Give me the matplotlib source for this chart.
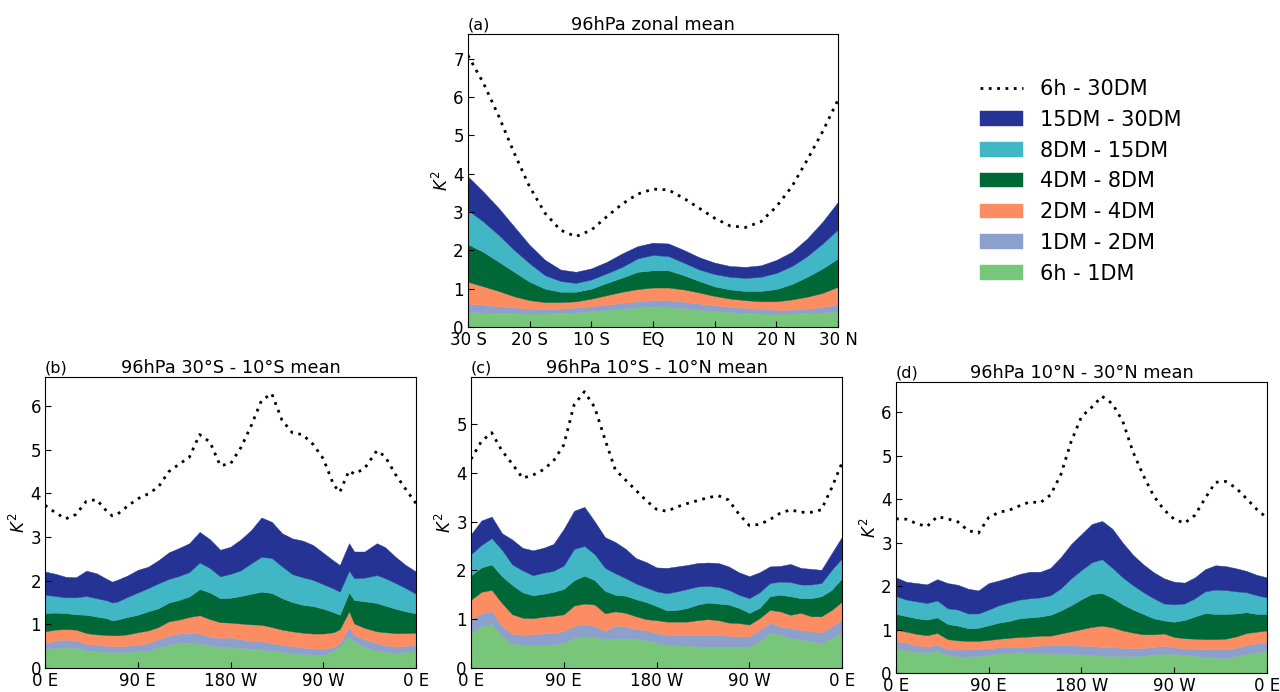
import numpy as np
import matplotlib
matplotlib.use('Agg')
import matplotlib.pyplot as plt

# colours of the period bands (bottom -> top)
col_6h_1 = '#78c679'
col_1_2 = '#8da0cb'
col_2_4 = '#fc8d62'
col_4_8 = '#006837'
col_8_15 = '#41b6c4'
col_15_30 = '#253494'

band_labels = ['15DM - 30DM', '8DM - 15DM', '4DM - 8DM', '2DM - 4DM', '1DM - 2DM', '6h - 1DM']
total_label = '6h - 30DM'

# (a) zonal mean, values are cumulative tops of each band (K^2)
a_lat = [-30, -27.5, -25, -22.5, -20, -17.5, -15, -12.5, -10, -7.5, -5, -2.5, 0,
         2.5, 5, 7.5, 10, 12.5, 15, 17.5, 20, 22.5, 25, 27.5, 30]
a_total = [7.09, 6.37, 5.50, 4.54, 3.66, 2.97, 2.53, 2.36, 2.53, 2.88, 3.21, 3.47, 3.60,
           3.58, 3.36, 3.10, 2.84, 2.64, 2.60, 2.75, 3.14, 3.66, 4.36, 5.10, 5.93]
a_top_15_30 = [3.93, 3.53, 3.10, 2.62, 2.14, 1.75, 1.50, 1.44, 1.53, 1.70, 1.92, 2.11, 2.20,
               2.18, 2.01, 1.82, 1.68, 1.59, 1.57, 1.61, 1.75, 1.96, 2.31, 2.75, 3.27]
a_top_8_15 = [3.05, 2.75, 2.40, 2.01, 1.66, 1.35, 1.20, 1.15, 1.24, 1.40, 1.57, 1.79, 1.88,
              1.85, 1.68, 1.50, 1.38, 1.31, 1.28, 1.31, 1.41, 1.59, 1.85, 2.18, 2.55]
a_top_4_8 = [2.16, 1.96, 1.70, 1.44, 1.18, 1.00, 0.92, 0.92, 1.00, 1.15, 1.29, 1.44, 1.48,
             1.48, 1.35, 1.20, 1.06, 0.98, 0.94, 0.94, 0.99, 1.12, 1.31, 1.53, 1.79]
a_top_2_4 = [1.18, 1.06, 0.94, 0.80, 0.70, 0.65, 0.65, 0.67, 0.74, 0.83, 0.92, 0.99, 1.03,
             1.03, 0.98, 0.90, 0.81, 0.74, 0.70, 0.67, 0.67, 0.72, 0.79, 0.89, 1.05]
a_top_1_2 = [0.61, 0.58, 0.54, 0.51, 0.48, 0.47, 0.48, 0.51, 0.54, 0.58, 0.63, 0.67, 0.70,
             0.70, 0.66, 0.61, 0.57, 0.52, 0.50, 0.47, 0.45, 0.45, 0.48, 0.52, 0.59]
a_top_6h_1 = [0.39, 0.38, 0.37, 0.36, 0.35, 0.35, 0.37, 0.38, 0.41, 0.45, 0.48, 0.51, 0.52,
              0.51, 0.49, 0.45, 0.42, 0.39, 0.37, 0.35, 0.35, 0.35, 0.37, 0.38, 0.41]

# (b) 30S - 10S mean
b_lon = [0, 10, 20, 30, 40, 50, 60, 65, 70, 80, 90, 100, 110, 120, 130, 140, 150, 160, 170,
         180, 190, 200, 210, 220, 230, 240, 250, 260, 270, 280, 286, 295, 300, 310, 322, 330,
         340, 350, 360]
b_total = [3.73, 3.56, 3.42, 3.52, 3.82, 3.86, 3.59, 3.49, 3.52, 3.71, 3.88, 3.99, 4.15, 4.50,
           4.67, 4.83, 5.35, 5.18, 4.64, 4.68, 5.05, 5.55, 6.13, 6.29, 5.68, 5.39, 5.35, 5.13,
           4.80, 4.20, 4.03, 4.52, 4.45, 4.57, 4.98, 4.85, 4.44, 4.10, 3.77]
b_top_15_30 = [2.21, 2.16, 2.09, 2.08, 2.23, 2.17, 2.04, 1.98, 2.02, 2.12, 2.25, 2.32, 2.47,
               2.65, 2.75, 2.86, 3.12, 2.95, 2.71, 2.78, 2.95, 3.16, 3.45, 3.35, 3.09, 2.97,
               2.92, 2.82, 2.64, 2.46, 2.36, 2.86, 2.67, 2.67, 2.86, 2.77, 2.55, 2.36, 2.21]
b_top_8_15 = [1.68, 1.65, 1.62, 1.62, 1.65, 1.60, 1.55, 1.50, 1.52, 1.63, 1.73, 1.83, 1.94,
              2.04, 2.11, 2.20, 2.42, 2.29, 2.10, 2.16, 2.24, 2.40, 2.55, 2.52, 2.33, 2.15,
              2.08, 2.02, 1.92, 1.82, 1.75, 2.23, 2.06, 2.07, 2.13, 2.06, 1.95, 1.83, 1.70]
b_top_4_8 = [1.26, 1.27, 1.26, 1.23, 1.22, 1.18, 1.14, 1.09, 1.11, 1.17, 1.22, 1.30, 1.37,
             1.50, 1.56, 1.64, 1.81, 1.73, 1.60, 1.61, 1.65, 1.70, 1.75, 1.72, 1.60, 1.51,
             1.45, 1.42, 1.36, 1.28, 1.22, 1.73, 1.56, 1.53, 1.49, 1.43, 1.36, 1.30, 1.25]
b_top_2_4 = [0.84, 0.88, 0.89, 0.88, 0.80, 0.77, 0.76, 0.75, 0.75, 0.77, 0.82, 0.86, 0.94,
             1.07, 1.11, 1.17, 1.21, 1.12, 1.05, 1.04, 1.02, 1.00, 0.99, 0.94, 0.88, 0.84,
             0.81, 0.79, 0.79, 0.82, 0.89, 1.30, 1.02, 0.92, 0.84, 0.82, 0.80, 0.80, 0.81]
b_top_1_2 = [0.57, 0.63, 0.65, 0.63, 0.55, 0.53, 0.51, 0.50, 0.50, 0.51, 0.53, 0.57, 0.66,
             0.74, 0.79, 0.80, 0.79, 0.72, 0.69, 0.70, 0.66, 0.63, 0.61, 0.57, 0.53, 0.50,
             0.47, 0.45, 0.44, 0.48, 0.57, 0.95, 0.75, 0.66, 0.57, 0.52, 0.49, 0.51, 0.53]
b_top_6h_1 = [0.42, 0.46, 0.47, 0.46, 0.40, 0.38, 0.37, 0.36, 0.36, 0.37, 0.38, 0.40, 0.47,
              0.53, 0.57, 0.57, 0.56, 0.51, 0.50, 0.48, 0.46, 0.44, 0.42, 0.40, 0.37, 0.34,
              0.32, 0.31, 0.30, 0.40, 0.50, 0.72, 0.60, 0.49, 0.40, 0.37, 0.35, 0.37, 0.39]

# (c) 10S - 10N mean
c_lon = [0, 10, 20, 30, 40, 50, 60, 70, 80, 90, 100, 110, 120, 130, 140, 150, 160, 170, 180,
         190, 200, 210, 220, 230, 240, 250, 260, 270, 280, 290, 300, 310, 320, 330, 340, 350, 360]
c_total = [4.28, 4.64, 4.82, 4.45, 4.18, 3.89, 3.95, 4.06, 4.24, 4.57, 5.39, 5.66, 5.34, 4.68,
           4.06, 3.85, 3.64, 3.43, 3.25, 3.21, 3.30, 3.37, 3.43, 3.49, 3.53, 3.44, 3.15, 2.92,
           2.94, 3.04, 3.17, 3.24, 3.19, 3.19, 3.24, 3.69, 4.20]
c_top_15_30 = [2.74, 3.02, 3.10, 2.76, 2.63, 2.46, 2.41, 2.46, 2.54, 2.85, 3.22, 3.30, 3.00,
               2.68, 2.58, 2.44, 2.25, 2.17, 2.06, 2.05, 2.08, 2.11, 2.15, 2.16, 2.15, 2.08,
               1.96, 1.88, 1.96, 2.08, 2.09, 2.13, 2.05, 2.03, 2.01, 2.35, 2.69]
c_top_8_15 = [2.33, 2.52, 2.66, 2.42, 2.12, 2.00, 1.90, 1.95, 1.99, 2.10, 2.44, 2.50, 2.33,
              2.05, 1.94, 1.84, 1.73, 1.65, 1.57, 1.53, 1.57, 1.62, 1.67, 1.68, 1.66, 1.60,
              1.50, 1.43, 1.55, 1.74, 1.77, 1.76, 1.71, 1.71, 1.74, 2.01, 2.25]
c_top_4_8 = [1.90, 2.06, 2.12, 1.88, 1.70, 1.55, 1.49, 1.52, 1.56, 1.62, 1.80, 1.89, 1.80,
             1.58, 1.50, 1.48, 1.41, 1.35, 1.27, 1.18, 1.19, 1.23, 1.30, 1.34, 1.32, 1.30,
             1.23, 1.13, 1.23, 1.47, 1.50, 1.47, 1.43, 1.43, 1.47, 1.60, 1.84]
c_top_2_4 = [1.40, 1.56, 1.60, 1.33, 1.10, 1.03, 1.02, 1.05, 1.07, 1.10, 1.28, 1.32, 1.30,
             1.12, 1.16, 1.13, 1.06, 1.00, 0.98, 0.95, 0.95, 0.95, 0.98, 1.00, 0.98, 0.93,
             0.92, 0.89, 1.02, 1.19, 1.16, 1.09, 1.13, 1.06, 1.06, 1.19, 1.36]
c_top_1_2 = [1.00, 1.12, 1.17, 0.86, 0.70, 0.68, 0.69, 0.71, 0.72, 0.76, 0.86, 0.90, 0.86,
             0.76, 0.87, 0.85, 0.80, 0.77, 0.72, 0.68, 0.68, 0.68, 0.68, 0.68, 0.68, 0.66,
             0.65, 0.65, 0.78, 0.93, 0.85, 0.82, 0.78, 0.75, 0.73, 0.85, 0.99]
c_top_6h_1 = [0.72, 0.86, 0.90, 0.65, 0.50, 0.48, 0.48, 0.48, 0.48, 0.52, 0.61, 0.65, 0.64,
              0.58, 0.61, 0.61, 0.59, 0.57, 0.52, 0.48, 0.46, 0.46, 0.44, 0.43, 0.43, 0.43,
              0.43, 0.44, 0.55, 0.72, 0.68, 0.61, 0.58, 0.55, 0.51, 0.61, 0.72]

# (d) 10N - 30N mean
d_lon = [0, 10, 20, 30, 40, 50, 60, 70, 80, 90, 100, 110, 120, 130, 140, 150, 160, 170, 180,
         190, 200, 210, 220, 230, 240, 250, 260, 270, 280, 290, 300, 310, 320, 330, 340, 350, 360]
d_total = [3.55, 3.54, 3.44, 3.37, 3.60, 3.55, 3.48, 3.28, 3.22, 3.58, 3.70, 3.75, 3.85, 3.94,
           3.92, 4.10, 4.57, 5.33, 5.90, 6.12, 6.37, 6.20, 5.80, 5.09, 4.55, 4.08, 3.76, 3.54,
           3.45, 3.63, 4.02, 4.39, 4.41, 4.26, 4.02, 3.77, 3.57]
d_top_15_30 = [2.20, 2.10, 2.07, 2.04, 2.16, 2.07, 2.03, 1.94, 1.90, 2.07, 2.13, 2.20, 2.28,
               2.33, 2.33, 2.42, 2.67, 2.97, 3.20, 3.43, 3.50, 3.32, 3.00, 2.72, 2.50, 2.32,
               2.18, 2.10, 2.08, 2.20, 2.39, 2.48, 2.46, 2.41, 2.35, 2.26, 2.20]
d_top_8_15 = [1.77, 1.69, 1.65, 1.61, 1.67, 1.49, 1.46, 1.37, 1.37, 1.46, 1.56, 1.63, 1.69,
              1.72, 1.74, 1.79, 1.95, 2.18, 2.37, 2.55, 2.62, 2.42, 2.20, 2.02, 1.86, 1.72,
              1.60, 1.58, 1.60, 1.72, 1.88, 1.92, 1.91, 1.88, 1.86, 1.79, 1.74]
d_top_4_8 = [1.36, 1.31, 1.26, 1.23, 1.28, 1.13, 1.09, 1.03, 1.04, 1.10, 1.16, 1.20, 1.26,
             1.28, 1.30, 1.34, 1.44, 1.56, 1.70, 1.82, 1.84, 1.73, 1.58, 1.46, 1.36, 1.26,
             1.21, 1.18, 1.22, 1.30, 1.38, 1.36, 1.36, 1.37, 1.40, 1.36, 1.36]
d_top_2_4 = [1.00, 0.95, 0.90, 0.87, 0.92, 0.78, 0.75, 0.74, 0.74, 0.76, 0.79, 0.81, 0.83,
             0.84, 0.86, 0.86, 0.91, 0.96, 1.01, 1.06, 1.09, 1.05, 0.98, 0.93, 0.89, 0.89,
             0.91, 0.83, 0.80, 0.79, 0.78, 0.78, 0.79, 0.84, 0.92, 0.95, 0.98]
d_top_1_2 = [0.74, 0.69, 0.64, 0.60, 0.66, 0.55, 0.54, 0.54, 0.55, 0.57, 0.59, 0.59, 0.60,
             0.61, 0.63, 0.64, 0.65, 0.64, 0.63, 0.62, 0.60, 0.59, 0.58, 0.57, 0.58, 0.60,
             0.63, 0.59, 0.57, 0.56, 0.55, 0.54, 0.55, 0.58, 0.64, 0.68, 0.71]
d_top_6h_1 = [0.57, 0.52, 0.49, 0.47, 0.51, 0.42, 0.38, 0.38, 0.39, 0.42, 0.45, 0.47, 0.48,
              0.47, 0.45, 0.44, 0.44, 0.44, 0.43, 0.41, 0.40, 0.39, 0.38, 0.39, 0.40, 0.42,
              0.45, 0.44, 0.42, 0.40, 0.37, 0.35, 0.34, 0.38, 0.44, 0.48, 0.51]

lat_ticks = [-30, -20, -10, 0, 10, 20, 30]
lat_ticklabels = ['30 S', '20 S', '10 S', 'EQ', '10 N', '20 N', '30 N']
lon_ticks = [0, 90, 180, 270, 360]
lon_ticklabels = ['0 E', '90 E', '180 W', '90 W', '0 E']


def draw_panel(ax, x, tops, total, tag, title, ymax, yticks):
	# tops ordered bottom -> top, fill each band between successive tops
	colours = [col_6h_1, col_1_2, col_2_4, col_4_8, col_8_15, col_15_30]
	lower = np.zeros(len(x))
	fills = []
	for top, c in zip(tops, colours):
		top = np.asarray(top)
		f = ax.fill_between(x, lower, top, facecolor=c, edgecolor=c, linewidth=0.3)
		fills.append(f)
		lower = top
	line, = ax.plot(x, total, color='black', linewidth=2, dashes=(1, 2))
	ax.set_ylim(0, ymax)
	ax.set_yticks(yticks)
	ax.tick_params(direction='in', length=4, labelsize=12, pad=3, top=False, right=False)
	ax.set_ylabel(r'$K^2$', fontsize=12, labelpad=1)
	ax.set_title(title, fontsize=12.8, pad=3)
	ax.set_title(tag, loc='left', fontsize=11.5, pad=3)
	return fills, line


fig = plt.figure(figsize=(12.8, 6.92), dpi=100)

axA = fig.add_axes([0.3656, 0.5275, 0.2891, 0.4234])
fills, line = draw_panel(axA, a_lat,
	[a_top_6h_1, a_top_1_2, a_top_2_4, a_top_4_8, a_top_8_15, a_top_15_30],
	a_total, '(a)', '96hPa zonal mean', 7.65, range(0, 8))
axA.set_xlim(-30, 30)
axA.set_xticks(lat_ticks)
axA.set_xticklabels(lat_ticklabels)

axB = fig.add_axes([0.0352, 0.0347, 0.2898, 0.4205])
draw_panel(axB, b_lon,
	[b_top_6h_1, b_top_1_2, b_top_2_4, b_top_4_8, b_top_8_15, b_top_15_30],
	b_total, '(b)', '96hPa 30°S - 10°S mean', 6.67, range(0, 7))

axC = fig.add_axes([0.368, 0.0347, 0.2898, 0.4205])
draw_panel(axC, c_lon,
	[c_top_6h_1, c_top_1_2, c_top_2_4, c_top_4_8, c_top_8_15, c_top_15_30],
	c_total, '(c)', '96hPa 10°S - 10°N mean', 5.96, range(0, 6))

axD = fig.add_axes([0.70, 0.0275, 0.2898, 0.4205])
draw_panel(axD, d_lon,
	[d_top_6h_1, d_top_1_2, d_top_2_4, d_top_4_8, d_top_8_15, d_top_15_30],
	d_total, '(d)', '96hPa 10°N - 30°N mean', 6.7, range(0, 7))

for ax in [axB, axC, axD]:
	ax.set_xlim(0, 360)
	ax.set_xticks(lon_ticks)
	ax.set_xticklabels(lon_ticklabels)

# legend: dotted total first, then bands top -> bottom
handles = [line] + fills[::-1]
labels = [total_label] + band_labels
fig.legend(handles, labels, loc='upper left', bbox_to_anchor=(0.7656, 0.886),
	frameon=False, fontsize=15, borderpad=0, borderaxespad=0,
	handlelength=2.07, handleheight=0.7, handletextpad=0.82, labelspacing=0.52)

fig.savefig('out.png', dpi=100)
